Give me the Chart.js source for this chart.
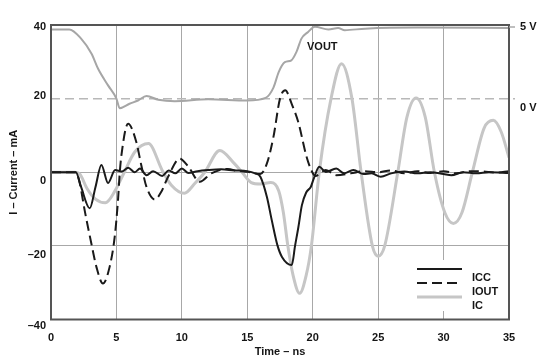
<!DOCTYPE html>
<html>
<head>
<meta charset="utf-8">
<script src="https://cdn.jsdelivr.net/npm/chart.js"></script>
<style>
  html, body { margin: 0; padding: 0; background: #fff; }
  #wrap { width: 542px; height: 363px; }
</style>
</head>
<body>
<div id="wrap"><canvas id="chart" width="542" height="363"></canvas></div>
<script>
// tick labels
const yTickValues = [40, 20, 0, -20, -40];
const yTickLabels = ['40', '20', '0', '–20', '–40'];
const voltLabels = ['5 V', '0 V'];
const voltAt = [40, 20]; // mA level that each volt label sits next to

// ICC (mA) vs time (ns)
const iccTime = [0, 1.9, 2.3, 2.96, 3.4, 3.85, 4.36, 4.9, 5.4, 5.9,
  6.4, 6.8, 7.3, 7.8, 8.5, 9.0, 9.5, 10.0, 10.5, 11.2,
  12.0, 13.0, 14.0, 15.0, 15.6, 16.0, 16.5, 16.87, 17.3, 17.65,
  18.4, 18.65, 18.9, 19.17, 19.5, 19.85, 20.1, 20.5, 21.0, 21.8,
  22.4, 23.1, 23.9, 24.5, 25.2, 26.0, 27.0, 28.0, 29.0, 30.0,
  30.6, 31.5, 32.5, 33.5, 35];
const iccValues = [0, 0, -4, -9.8, -4, 2.0, -2.9, 0.6, 0.2, 1.2,
  0, 1.0, -0.8, 0.3, -1.0, 0.5, -0.3, 1.0, -0.2, 0.3,
  0.6, 0.8, 0.5, 0.3, -0.3, -1.2, -6.7, -13, -19.8, -23,
  -25.2, -20, -15, -9, -5.5, -4, -1.5, 1.5, 0.1, 1.0,
  -0.3, 0.6, -0.5, -0.3, -1.2, -0.3, 0.2, -0.3, 0, -0.5,
  -0.8, 0, -0.3, 0, -0.2];

// IOUT
const ioutTime = [0, 1.9, 2.2, 2.57, 3.08, 3.47, 3.97, 4.48, 4.87, 5.12,
  5.25, 5.38, 5.89, 6.52, 6.9, 7.29, 7.93, 8.43, 8.95, 9.84,
  10.5, 11.37, 12.25, 13.5, 14.3, 15.06, 16.0, 16.5, 17.0, 17.5,
  17.9, 18.4, 18.9, 19.5, 19.9, 20.2, 21.0, 21.8, 22.9, 24,
  25, 26, 27, 28, 29, 30, 31, 32, 33, 34, 35];
const ioutValues = [0, 0, -3, -10.3, -19.3, -25.7, -30.2, -25.7, -17.5, -7.6,
  -0.3, 4.6, 13.2, 8.2, 1.9, -3.9, -7.4, -5.3, -1.2, 3.7,
  1.5, -2.6, -0.3, 0.9, 0.3, 0.1, -0.5, 2.4, 9.6, 20,
  22.3, 18.5, 13.6, 4.6, 0.5, -1.0, 0.6, -0.8, -0.3, 0.3,
  0, 0.5, -0.3, 0.3, -0.2, 0.3, -0.3, 0.3, 0.2, -0.1, 0.3];

// IC
const icTime = [0, 1.8, 2.2, 2.75, 3.4, 4.15, 4.9, 5.6, 6.4, 7.45,
  8.5, 9.2, 10.2, 11.0, 11.75, 12.9, 14.0, 14.6, 15.3, 16.0,
  16.8, 17.4, 17.76, 18.1, 18.5, 19.0, 19.5, 19.9, 20.5, 21.4,
  22.2, 23.0, 23.7, 24.56, 25.0, 25.5, 26.5, 27.2, 27.9, 28.6,
  29.3, 30.1, 30.75, 31.4, 32.2, 33.1, 33.8, 34.4, 35];
const icValues = [0, 0, -0.5, -4.4, -7.3, -8.3, -5, 0, 5.5, 7.8,
  0.5, -3.5, -5.7, -3, 0, 5.9, 2.4, 0, -2.8, -3.2,
  -2.8, -5, -11, -20, -28, -32.9, -28, -20, 0, 20,
  29.5, 20, 0, -20, -22.8, -20, 0, 15, 20.2, 15,
  0, -11, -13.9, -11, 0, 12, 14.1, 11, 4];

// VOUT, drawn on the mA scale (0 V ~ 20, 5 V ~ 40)
const voutTime = [0, 1.4, 2.3, 3.1, 3.6, 4.36, 5.0, 5.25, 6.0, 6.65,
  7.3, 8.2, 9.45, 12, 15, 16.4, 17.0, 17.4, 17.87, 18.37,
  18.76, 19.14, 19.65, 20.16, 21.2, 21.94, 22.45, 24, 28, 35];
const voutValues = [38.8, 38.8, 36.3, 32.2, 28.1, 23.6, 20, 17.4, 18.6, 19.5,
  20.7, 19.7, 19.3, 19.8, 19.5, 20.2, 23, 27.2, 29.9, 30.4,
  32.7, 36.3, 38.1, 39.5, 38.8, 39.2, 38.6, 39.0, 39.3, 39.2];

const FONT = '"Liberation Sans", Arial, sans-serif';
const TEXT = '#151515';

function pts(t, v) {
  return t.map((x, i) => ({ x: x, y: v[i] }));
}

const decor = {
  id: 'decor',
  beforeDatasetsDraw(chart) {
    const { ctx, chartArea: a, scales: { y } } = chart;
    const yy = y.getPixelForValue(20);
    ctx.save();
    ctx.strokeStyle = '#b8b8b8';
    ctx.lineWidth = 1.5;
    ctx.setLineDash([9, 5]);
    ctx.beginPath();
    ctx.moveTo(a.left, yy);
    ctx.lineTo(a.right + 6, yy);
    ctx.stroke();
    ctx.restore();
  },
  afterDatasetsDraw(chart) {
    const { ctx, chartArea: a, scales: { y } } = chart;
    ctx.save();

    // legend
    ctx.fillStyle = '#fff';
    ctx.fillRect(408, 260, 98, 51);
    const rows = [
      { c: '#1a1a1a', w: 2, d: [], t: 'ICC' },
      { c: '#1a1a1a', w: 2, d: [10, 5], t: 'IOUT' },
      { c: '#c6c6c6', w: 3, d: [], t: 'IC' }
    ];
    ctx.font = 'bold 11px ' + FONT;
    ctx.textBaseline = 'middle';
    rows.forEach((r, i) => {
      const ly = 269 + i * 14;
      ctx.strokeStyle = r.c;
      ctx.lineWidth = r.w;
      ctx.setLineDash(r.d);
      ctx.beginPath();
      ctx.moveTo(417, ly);
      ctx.lineTo(462, ly);
      ctx.stroke();
      ctx.fillStyle = TEXT;
      ctx.textAlign = 'left';
      ctx.fillText(r.t, 472, ly + 9);
    });
    ctx.setLineDash([]);

    // frame
    ctx.strokeStyle = '#555';
    ctx.lineWidth = 2;
    ctx.strokeRect(a.left, a.top, a.right - a.left, a.bottom - a.top);

    // 5 V tick
    ctx.strokeStyle = '#aaa';
    ctx.lineWidth = 1.5;
    ctx.beginPath();
    ctx.moveTo(a.right, y.getPixelForValue(40) + 2);
    ctx.lineTo(a.right + 6, y.getPixelForValue(40) + 2);
    ctx.stroke();

    // y tick labels
    const shift = [2, -2.5, 9, 9, 6.5];
    ctx.fillStyle = TEXT;
    ctx.textAlign = 'right';
    yTickValues.forEach((v, i) => {
      ctx.fillText(yTickLabels[i], a.left - 5, y.getPixelForValue(v) + shift[i]);
    });

    // volt labels
    const vshift = [2, 9.5];
    ctx.textAlign = 'left';
    voltAt.forEach((v, i) => {
      ctx.fillText(voltLabels[i], a.right + 11, y.getPixelForValue(v) + vshift[i]);
    });

    // VOUT label
    ctx.fillText('VOUT', 307, 47);
    ctx.restore();
  }
};

new Chart(document.getElementById('chart'), {
  type: 'line',
  data: {
    datasets: [
      { label: 'ICC', data: pts(iccTime, iccValues), borderColor: '#1a1a1a', borderWidth: 2 },
      { label: 'IOUT', data: pts(ioutTime, ioutValues), borderColor: '#1a1a1a', borderWidth: 2, borderDash: [10, 5] },
      { label: 'VOUT', data: pts(voutTime, voutValues), borderColor: '#a6a6a6', borderWidth: 2 },
      { label: 'IC', data: pts(icTime, icValues), borderColor: '#c6c6c6', borderWidth: 3 }
    ]
  },
  options: {
    responsive: false,
    animation: false,
    devicePixelRatio: 1,
    layout: { padding: { top: 25, right: 33, left: 0, bottom: 0 } },
    elements: {
      point: { radius: 0 },
      line: { cubicInterpolationMode: 'monotone', fill: false }
    },
    plugins: { legend: { display: false }, tooltip: { enabled: false } },
    scales: {
      x: {
        type: 'linear',
        min: 0, max: 35,
        ticks: { stepSize: 5, color: TEXT, padding: 12, font: { family: FONT, size: 11, weight: 'bold' } },
        grid: {
          drawTicks: false,
          color: c => (c.tick && (c.tick.value === 0 || c.tick.value === 35)) ? 'rgba(0,0,0,0)' : '#a8a8a8',
          lineWidth: 1
        },
        border: { display: false },
        title: { display: true, text: 'Time – ns', color: TEXT, padding: { top: 0, bottom: 4 }, font: { family: FONT, size: 11, weight: 'bold' } },
        afterFit: s => { s.height = 43.5; }
      },
      y: {
        min: -40, max: 40,
        ticks: { stepSize: 20, display: false },
        grid: {
          drawTicks: false,
          color: c => (c.tick && (c.tick.value === 0 || c.tick.value === -20)) ? '#a8a8a8' : 'rgba(0,0,0,0)',
          lineWidth: 1
        },
        border: { display: false },
        title: { display: true, text: 'I – Current – mA', color: TEXT, padding: { top: 7, bottom: 0 }, font: { family: FONT, size: 11, weight: 'bold' } },
        afterFit: s => { s.width = 51; }
      }
    }
  },
  plugins: [decor]
});
</script>
</body>
</html>
